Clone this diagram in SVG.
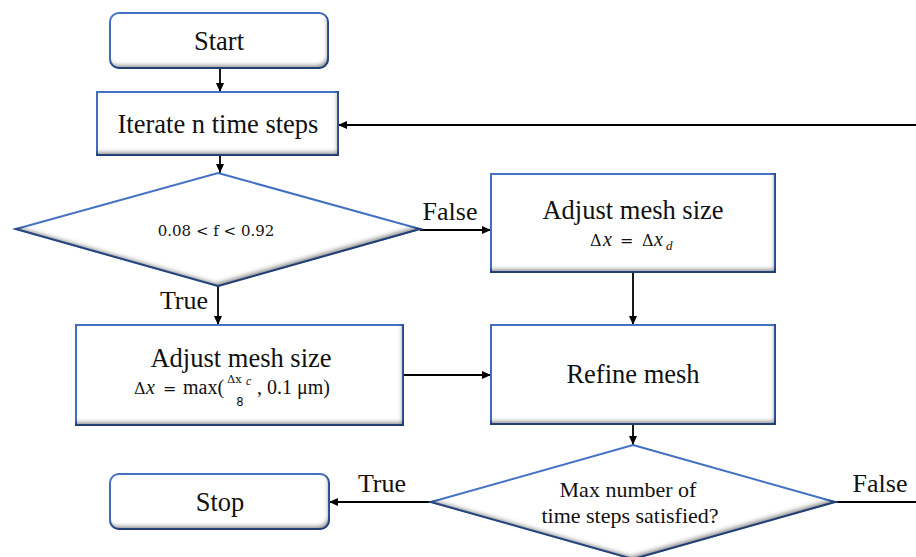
<svg xmlns="http://www.w3.org/2000/svg" width="916" height="557" viewBox="0 0 916 557">
<style>
.box{fill:#fff;stroke:#4472C4;stroke-width:2}
.t{font-family:'Liberation Serif','DejaVu Serif',serif;font-size:26.5px;fill:#111;text-anchor:middle}
.lbl{font-family:'Liberation Serif','DejaVu Serif',serif;font-size:26px;fill:#111;text-anchor:middle}
.m{font-family:'DejaVu Serif',serif;font-size:16px;fill:#111}
.mi{font-family:'Liberation Serif','DejaVu Serif',serif;font-size:20px;font-style:italic;fill:#111}
.mr{font-family:'Liberation Serif','DejaVu Serif',serif;font-size:20px;fill:#111}
.c{fill:none;stroke:#000;stroke-width:1.8}
</style>
<defs>
<marker id="ah" markerWidth="9" markerHeight="8" refX="9" refY="4" orient="auto" markerUnits="userSpaceOnUse">
<path d="M0,0 L9,4 L0,8 z" fill="#000"/>
</marker>
<filter id="in" x="-10%" y="-20%" width="120%" height="140%">
<feFlood flood-color="#000" flood-opacity="0.75"/>
<feComposite in2="SourceAlpha" operator="out"/>
<feOffset dx="-2" dy="-4"/>
<feGaussianBlur stdDeviation="2.2"/>
<feComposite in2="SourceAlpha" operator="in" result="sh"/>
<feMerge><feMergeNode in="SourceGraphic"/><feMergeNode in="sh"/></feMerge>
</filter>
</defs>

<g id="connectors">
<path class="c" d="M220,68 V92" marker-end="url(#ah)"/>
<path class="c" d="M220,155 V173" marker-end="url(#ah)"/>
<path class="c" d="M420,230 H491" marker-end="url(#ah)"/>
<path class="c" d="M218,286 V325" marker-end="url(#ah)"/>
<path class="c" d="M633,272 V325" marker-end="url(#ah)"/>
<path class="c" d="M403,375 H491" marker-end="url(#ah)"/>
<path class="c" d="M633,424 V445" marker-end="url(#ah)"/>
<path class="c" d="M431,502 H329" marker-end="url(#ah)"/>
<path class="c" d="M835,502 H916"/>
<path class="c" d="M916,125 H338" marker-end="url(#ah)"/>
<text class="lbl" x="450" y="220">False</text>
<text class="lbl" x="184" y="309">True</text>
<text class="lbl" x="382" y="492">True</text>
<text class="lbl" x="880" y="492">False</text>
</g>

<g id="start">
<rect class="box" x="110" y="13" width="218" height="55" rx="9" filter="url(#in)"/>
<text class="t" x="219" y="50">Start</text>
</g>

<g id="iterate">
<rect class="box" x="97" y="92" width="241" height="63" filter="url(#in)"/>
<text class="t" x="218" y="133">Iterate n time steps</text>
</g>

<g id="cond1">
<polygon class="box" points="218,173 420,229 218,286 16,229" filter="url(#in)"/>
<text x="216" y="236" style="font-family:'DejaVu Serif',serif;font-size:15px;fill:#111;text-anchor:middle">0.08 &lt; f &lt; 0.92</text>
</g>

<g id="adjust-d">
<rect class="box" x="491" y="174" width="284" height="98" filter="url(#in)"/>
<text class="t" x="633" y="219">Adjust mesh size</text>
<text class="m" x="590" y="246">Δ</text>
<text class="mi" x="603" y="246">x</text>
<text class="m" x="620" y="246">=</text>
<text class="m" x="642" y="246">Δ</text>
<text class="mi" x="654" y="246">x</text>
<text class="mi" x="666" y="250" style="font-size:13px">d</text>
</g>

<g id="adjust-c">
<rect class="box" x="76" y="325" width="327" height="100" filter="url(#in)"/>
<text class="t" x="241" y="367">Adjust mesh size</text>
<text class="m" x="134" y="394">Δ</text>
<text class="mi" x="146" y="394">x</text>
<text class="m" x="163" y="394">=</text>
<text class="mr" x="183" y="394">max(</text>
<text class="m" x="227" y="383" style="font-size:11.5px">Δx</text>
<text class="mi" x="246" y="385" style="font-size:12px">c</text>
<text x="240" y="406" style="font-family:'DejaVu Sans',sans-serif;font-size:11.5px;fill:#111;text-anchor:middle">8</text>
<text class="mr" x="257" y="394">, 0.1 μm)</text>
</g>

<g id="refine">
<rect class="box" x="491" y="325" width="284" height="99" filter="url(#in)"/>
<text class="t" x="633" y="383">Refine mesh</text>
</g>

<g id="cond2">
<polygon class="box" points="633,445 835,502 633,559 431,502" filter="url(#in)"/>
<text class="t" x="628" y="497" style="font-size:22px">Max number of</text>
<text class="t" x="630" y="523" style="font-size:22px">time steps satisfied?</text>
</g>

<g id="stop">
<rect class="box" x="110" y="474" width="219" height="55" rx="9" filter="url(#in)"/>
<text class="t" x="220" y="511">Stop</text>
</g>
</svg>
